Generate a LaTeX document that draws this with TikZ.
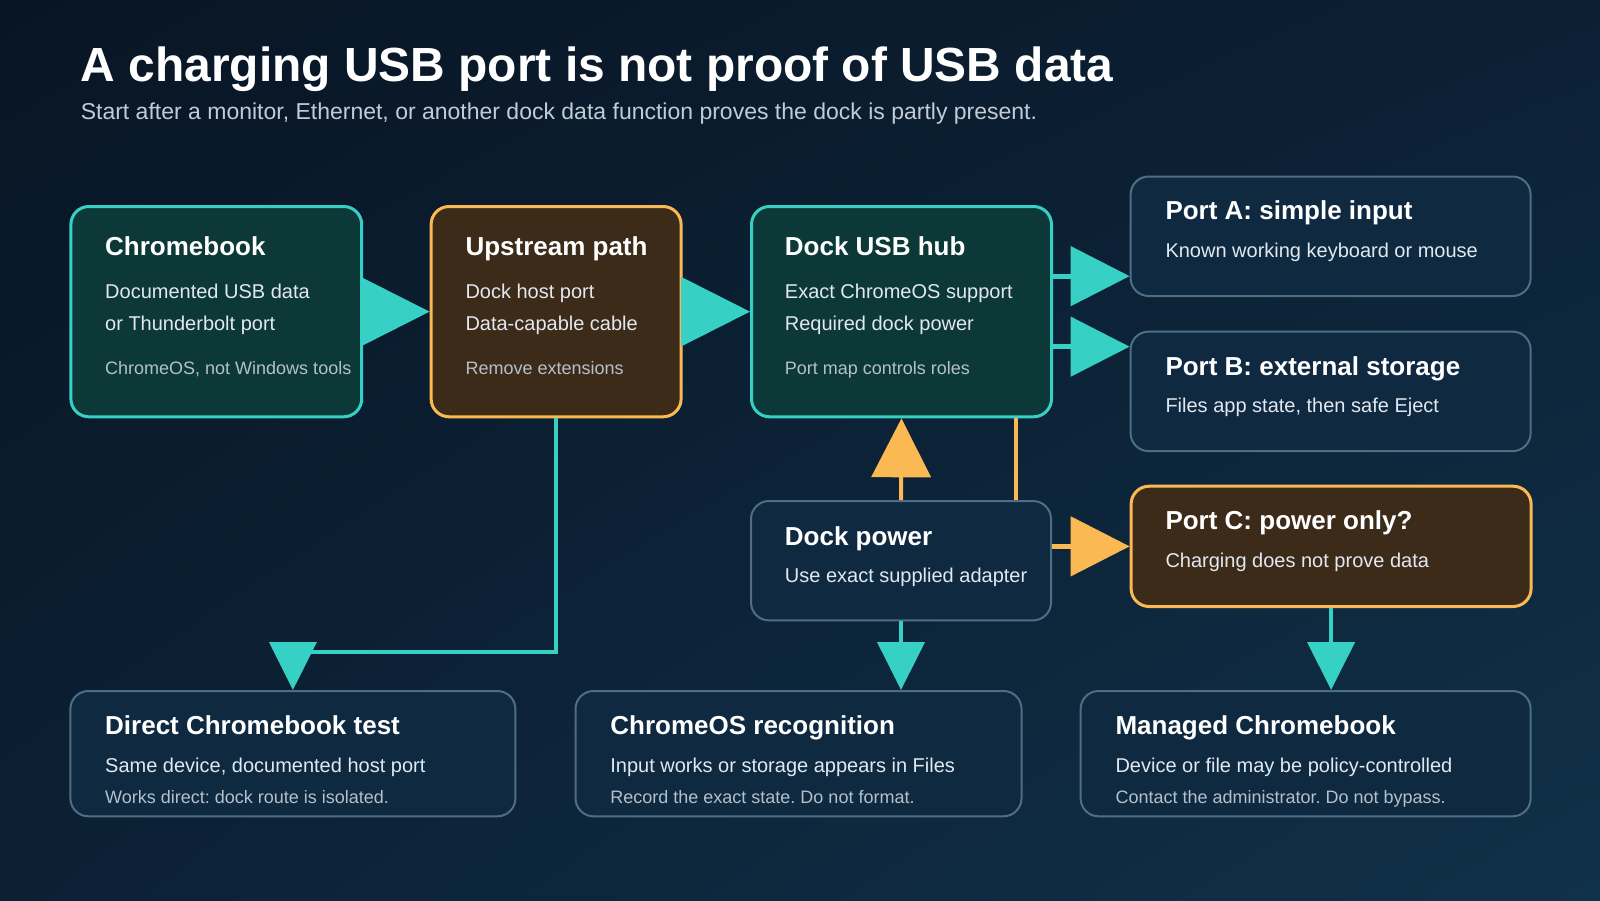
\documentclass[tikz,border=0pt]{standalone}
\usepackage{fontspec}
\setmainfont{Liberation Sans}
\usetikzlibrary{arrows.meta,shadings}
\frenchspacing

\definecolor{tealline}{HTML}{36D1C4}
\definecolor{amber}{HTML}{FBB954}
\definecolor{tealfill}{HTML}{0D3838}
\definecolor{brownfill}{HTML}{3D2B19}
\definecolor{navyfill}{HTML}{0F2940}
\definecolor{navyline}{HTML}{4F6E86}
\definecolor{bodytext}{HTML}{E2E8F0}
\definecolor{smalltext}{HTML}{B4C0CC}
\definecolor{subtext}{HTML}{C2CCD8}
\definecolor{bgdark}{HTML}{081524}
\definecolor{bgmid}{HTML}{0C2034}
\definecolor{bglight}{HTML}{10314A}

\begin{document}
\begin{tikzpicture}[x=1pt,y=-1pt,
  box/.style={rounded corners=18pt, anchor=north west, inner sep=0pt},
  tealbox/.style={box, draw=tealline, fill=tealfill, line width=3pt},
  amberbox/.style={box, draw=amber, fill=brownfill, line width=3pt},
  navybox/.style={box, draw=navyline, fill=navyfill, line width=2pt},
  head/.style={anchor=base west, inner sep=0pt, text=white, font=\bfseries\fontsize{26}{30}\selectfont},
  body/.style={anchor=base west, inner sep=0pt, text=bodytext, font=\fontsize{20}{24}\selectfont},
  small/.style={anchor=base west, inner sep=0pt, text=smalltext, font=\fontsize{18}{22}\selectfont},
  bigtip/.style={-{Triangle[length=69pt,width=69pt]}},
  sidetip/.style={line width=5pt, -{Triangle[length=59pt,width=59pt]}},
  downtip/.style={tealline, line width=4pt, -{Triangle[length=48pt,width=47pt]}}
]
% background
\shade[upper left=bgdark, upper right=bgmid, lower left=bgmid, lower right=bglight] (0,0) rectangle (1600,900);
\useasboundingbox (0,0) rectangle (1600,900);

% title
\node[anchor=base west, inner sep=0pt, text=white, font=\bfseries\fontsize{47.9}{56}\selectfont] (title) at (80.6,81.6) {A charging USB port is not proof of USB data};
\node[anchor=base west, inner sep=0pt, text=subtext, font=\fontsize{23}{27}\selectfont] (subtitle) at (80.6,119) {Start after a monitor, Ethernet, or another dock data function proves the dock is partly present.};

% top row
\node[tealbox, minimum width=290.8pt, minimum height=210.3pt] (chrome) at (69.4,205) {};
\node[amberbox, minimum width=250pt, minimum height=210.3pt] (up) at (429.6,205) {};
\node[tealbox, minimum width=300pt, minimum height=210.3pt] (hub) at (750,205) {};

\node[head] (chromeHead) at (105,255) {Chromebook};
\node[body] (chromeA) at (105,298) {Documented USB data};
\node[body] (chromeB) at (105,330) {or Thunderbolt port};
\node[small] (chromeC) at (105,374.5) {ChromeOS, not Windows tools};

\node[head] (upHead) at (465.3,255) {Upstream path};
\node[body] (upA) at (465.3,298) {Dock host port};
\node[body] (upB) at (465.3,330) {Data-capable cable};
\node[small] (upC) at (465.3,374.5) {Remove extensions};

\node[head] (hubHead) at (784.7,255) {Dock USB hub};
\node[body] (hubA) at (784.7,298) {Exact ChromeOS support};
\node[body] (hubB) at (784.7,330) {Required dock power};
\node[small] (hubC) at (784.7,374.5) {Port map controls roles};

% ports
\node[navybox, minimum width=400pt, minimum height=119.5pt] (portA) at (1129.6,175.5) {};
\node[navybox, minimum width=400pt, minimum height=119.5pt] (portB) at (1129.6,330.6) {};
\node[amberbox, minimum width=400pt, minimum height=120.3pt] (portC) at (1129.6,484.7) {};
\node[navybox, minimum width=300pt, minimum height=119.4pt] (power) at (750,500) {};

\node[head] (portAHead) at (1165.3,219.4) {Port A: simple input};
\node[body] (portAText) at (1165.3,257) {Known working keyboard or mouse};
\node[head] (portBHead) at (1165.3,375.5) {Port B: external storage};
\node[body] (portBText) at (1165.3,412) {Files app state, then safe Eject};
\node[head] (portCHead) at (1165.3,529.6) {Port C: power only?};
\node[body] (portCText) at (1165.3,567.3) {Charging does not prove data};
\node[head] (powerHead) at (784.7,545) {Dock power};
\node[body] (powerText) at (784.7,582.7) {Use exact supplied adapter};

% bottom row
\node[navybox, minimum width=445pt, minimum height=125.3pt] (direct) at (69.4,690) {};
\node[navybox, minimum width=446pt, minimum height=125.3pt] (recog) at (574.5,690) {};
\node[navybox, minimum width=450pt, minimum height=125.3pt] (managed) at (1079.6,690) {};

\node[head] (directHead) at (105,734.7) {Direct Chromebook test};
\node[body] (directA) at (105,772.5) {Same device, documented host port};
\node[small] (directB) at (105,803) {Works direct: dock route is isolated.};
\node[head] (recogHead) at (610.2,734.7) {ChromeOS recognition};
\node[body] (recogA) at (610.2,772.5) {Input works or storage appears in Files};
\node[small] (recogB) at (610.2,803) {Record the exact state. Do not format.};
\node[head] (managedHead) at (1115.3,734.7) {Managed Chromebook};
\node[body] (managedA) at (1115.3,772.5) {Device or file may be policy-controlled};
\node[small] (managedB) at (1115.3,803) {Contact the administrator. Do not bypass.};

% connectors
\draw[tealline, line width=3pt, bigtip] (chrome.east) -- (up.west);
\draw[tealline, line width=3pt, bigtip] (up.east) -- (hub.west);

\coordinate (hubA) at ([yshift=35.5pt]hub.east);
\coordinate (hubB) at ([yshift=-35pt]hub.east);
\draw[tealline, sidetip] (hubA) -- (hubA -| portA.west);
\draw[tealline, sidetip] (hubB) -- (hubB -| portB.west);

\draw[amber, line width=4pt, -{Triangle[length=59pt,width=59pt]}] (power.north) -- (hub.south);
\coordinate (hubP) at ([xshift=114pt]hub.south);
\draw[amber, line width=4pt] (hubP) -- (hubP |- power.north);
\draw[amber, sidetip] (power.east |- portC.west) -- (portC.west);

\draw[downtip] (portC.south) -- (portC.south |- managed.north);
\draw[downtip] (power.south) -- (power.south |- recog.north);
\draw[downtip] (up.south) -- ++(0,234) -| (direct.north);
\end{tikzpicture}
\end{document}
